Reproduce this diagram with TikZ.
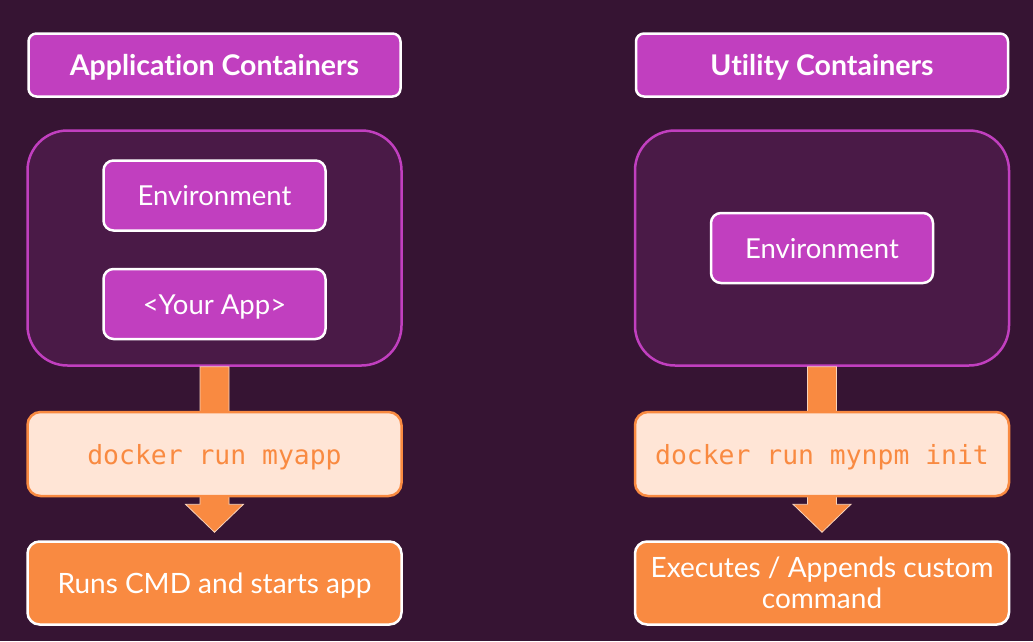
\documentclass[tikz,border=0pt]{standalone}
\usepackage{fontspec}
\setmainfont{Lato}[Ligatures=NoCommon]
\setmonofont{DejaVu Sans Mono}
\usetikzlibrary{calc}
\definecolor{bg}{HTML}{361433}
\definecolor{contfill}{HTML}{4A1A47}
\definecolor{mag}{HTML}{C13FBF}
\definecolor{orng}{HTML}{F98A41}
\definecolor{peach}{HTML}{FFE5D6}
\definecolor{arrline}{HTML}{F7D3BC}
\tikzset{
  capcenter/.style={text height=20pt, text depth=0pt},
  titlebox/.style={draw=white, line width=2.5pt, fill=mag, rounded corners=8pt, text=white, font=\fontsize{28.5}{32}\selectfont\bfseries, minimum width=372pt, minimum height=63pt, inner sep=0pt, capcenter},
  contbox/.style={draw=mag, line width=2.5pt, fill=contfill, rounded corners=40pt, minimum width=374pt, minimum height=235pt, inner sep=0pt},
  envbox/.style={draw=white, line width=2.5pt, fill=mag, rounded corners=10pt, text=white, font=\fontsize{27.5}{31}\selectfont, minimum width=222pt, minimum height=70pt, inner sep=0pt, capcenter},
  codebox/.style={draw=orng, line width=2.5pt, fill=peach, rounded corners=13pt, text=orng, font=\fontsize{26.4}{30}\ttfamily, minimum width=374pt, minimum height=84pt, inner sep=0pt, text height=20pt, text depth=0pt},
  resbox/.style={draw=white, line width=2.5pt, fill=orng, rounded corners=12pt, text=white, font=\fontsize{28}{31}\selectfont, minimum width=374pt, minimum height=83pt, inner sep=0pt, align=center},
  blockarrow/.style={fill=orng, draw=arrline, line width=0.8pt, line join=miter}
}
\begin{document}
\begin{tikzpicture}[x=1pt,y=-1pt]
\fill[bg] (0,0) rectangle (1033,641);
\useasboundingbox (0,0) rectangle (1033,641);
% left column
\node[titlebox] (titleL) at (214.5,65) {Application Containers};
\node[contbox] (contL) at (214.5,248) {};
\node[envbox] (envL) at (214.5,195.5) {Environment};
\node[envbox] (appL) at (214.5,304) {<Your App>};
\node[resbox, capcenter] (resL) at (214.5,583) {Runs CMD and starts app};
\coordinate (tipL) at ($(resL.north)+(0,-8)$);
\draw[blockarrow] ($(contL.south)+(-14.5,0)$) -- ($(contL.south)+(14.5,0)$) -- ($(tipL)+(14.5,-28)$) -- ($(tipL)+(29,-28)$) -- (tipL) -- ($(tipL)+(-29,-28)$) -- ($(tipL)+(-14.5,-28)$) -- cycle;
\node[codebox] (codeL) at (214.5,454) {docker run myapp};
% right column
\node[titlebox] (titleR) at (822,65) {Utility Containers};
\node[contbox] (contR) at (822,248) {};
\node[envbox] (envR) at (822,248) {Environment};
\node[resbox] (resR) at (822,583) {Executes / Appends custom\\command};
\coordinate (tipR) at ($(resR.north)+(0,-8)$);
\draw[blockarrow] ($(contR.south)+(-14.5,0)$) -- ($(contR.south)+(14.5,0)$) -- ($(tipR)+(14.5,-28)$) -- ($(tipR)+(29,-28)$) -- (tipR) -- ($(tipR)+(-29,-28)$) -- ($(tipR)+(-14.5,-28)$) -- cycle;
\node[codebox] (codeR) at (822,454) {docker run mynpm init};
\end{tikzpicture}
\end{document}
